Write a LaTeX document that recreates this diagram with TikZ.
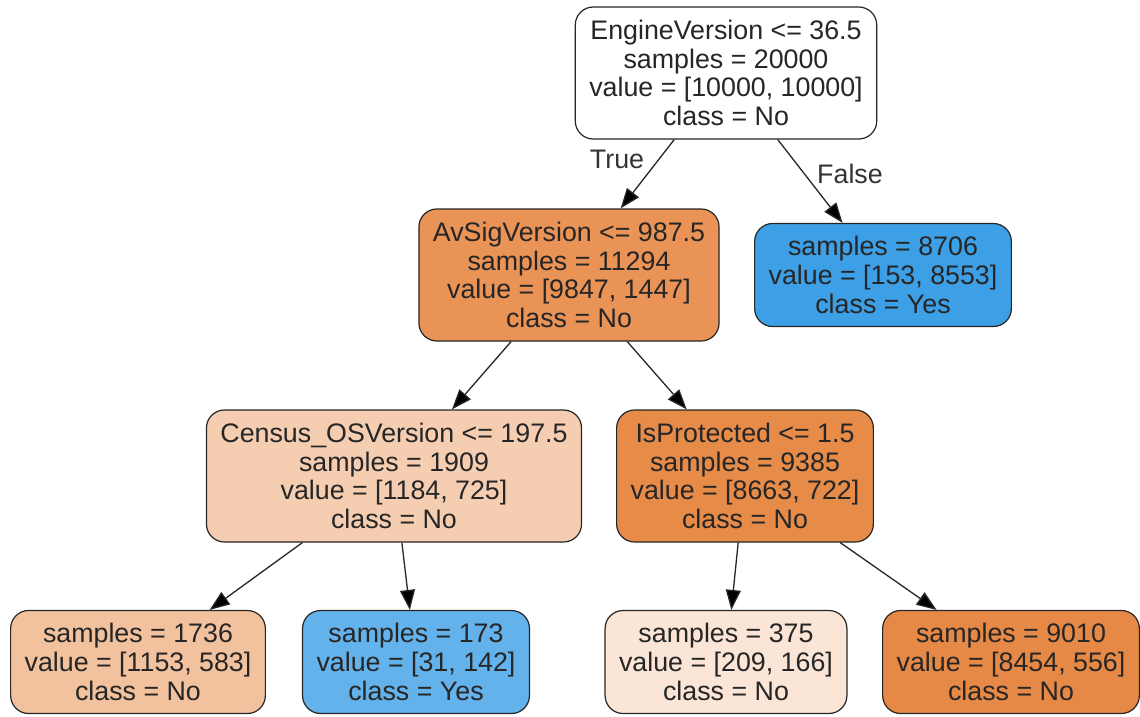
\documentclass[tikz,border=0pt]{standalone}
\usepackage{fontspec}
\setmainfont{Liberation Sans}
\usetikzlibrary{arrows.meta}

\definecolor{noA}{HTML}{E99356}
\definecolor{noB}{HTML}{F5CEB2}
\definecolor{noC}{HTML}{E78B49}
\definecolor{noD}{HTML}{F2C19D}
\definecolor{noE}{HTML}{FAE5D6}
\definecolor{noF}{HTML}{E78946}
\definecolor{yesA}{HTML}{3D9FE5}
\definecolor{yesB}{HTML}{64B2EB}

\begin{document}
\begin{tikzpicture}[x=1pt, y=-1pt]
    \tikzstyle{split} = [draw=black!85, fill=#1, rounded corners=18pt, line width=1.2pt, inner xsep=14pt, inner ysep=0pt, minimum height=132pt, align=center, text=black!85, font=\fontsize{26.8}{28.7}\selectfont]
    \tikzstyle{leaf} = [split=#1, minimum height=103pt]
    \tikzstyle{branch} = [-{Triangle[length=20pt, width=15pt, fill=black]}, line width=1.3pt, black!85]
    \useasboundingbox (0,0) rectangle (1140,717);
    \node[split=white] (root) at (726,73) {EngineVersion <= 36.5\\samples = 20000\\value = [10000, 10000]\\class = No};
    \node[split=noA] (avsig) at (569,275) {AvSigVersion <= 987.5\\samples = 11294\\value = [9847, 1447]\\class = No};
    \node[leaf=yesA] (yes8706) at (883,275) {samples = 8706\\value = [153, 8553]\\class = Yes};
    \node[split=noB] (census) at (394,476) {Census\_OSVersion <= 197.5\\samples = 1909\\value = [1184, 725]\\class = No};
    \node[split=noC] (isprot) at (745,476) {IsProtected <= 1.5\\samples = 9385\\value = [8663, 722]\\class = No};
    \node[leaf=noD] (no1736) at (138,662) {samples = 1736\\value = [1153, 583]\\class = No};
    \node[leaf=yesB] (yes173) at (416,662) {samples = 173\\value = [31, 142]\\class = Yes};
    \node[leaf=noE] (no375) at (726,662) {samples = 375\\value = [209, 166]\\class = No};
    \node[leaf=noF] (no9010) at (1011,662) {samples = 9010\\value = [8454, 556]\\class = No};
    \draw[branch] (root) -- (avsig);
    \draw[branch] (root) -- (yes8706);
    \draw[branch] (avsig) -- (census);
    \draw[branch] (avsig) -- (isprot);
    \draw[branch] (census) -- (no1736);
    \draw[branch] (census) -- (yes173);
    \draw[branch] (isprot) -- (no375);
    \draw[branch] (isprot) -- (no9010);
    \node[text=black!80, font=\fontsize{26.8}{28.7}\selectfont] (truelab) at (617,159) {True};
    \node[text=black!80, font=\fontsize{26.8}{28.7}\selectfont] (falselab) at (850,174) {False};
\end{tikzpicture}
\end{document}
